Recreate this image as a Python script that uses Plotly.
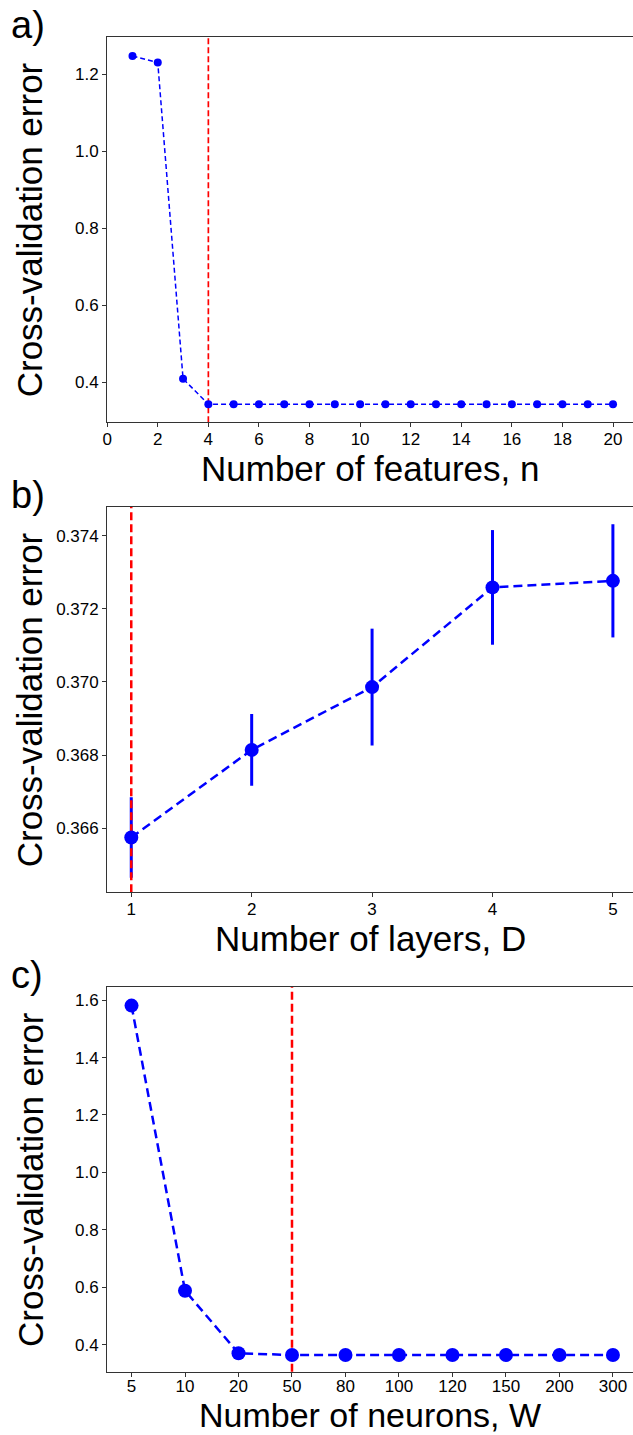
import plotly.graph_objects as go

# ---------------- data ----------------
n_features = list(range(1, 21))
cv_features = [1.248, 1.231, 0.409, 0.343, 0.343, 0.343, 0.343, 0.343, 0.343, 0.343,
               0.343, 0.343, 0.343, 0.343, 0.343, 0.343, 0.343, 0.343, 0.343, 0.343]
best_n = 4

n_layers = [1, 2, 3, 4, 5]
cv_layers = [0.36574, 0.36814, 0.36986, 0.37259, 0.37277]
cv_layers_err = [0.0011, 0.00098, 0.0016, 0.00157, 0.00155]
best_D = 1

n_neurons = ["5", "10", "20", "50", "80", "100", "120", "150", "200", "300"]
cv_neurons = [1.581, 0.588, 0.370, 0.364, 0.364, 0.364, 0.364, 0.364, 0.364, 0.364]
best_W = "50"

a_xticks = list(range(0, 21, 2))
a_yticks = [0.4, 0.6, 0.8, 1.0, 1.2]
b_yticks = [0.366, 0.368, 0.370, 0.372, 0.374]
c_yticks = [0.4, 0.6, 0.8, 1.0, 1.2, 1.4, 1.6]

BLUE = "#0000ff"
RED = "#ff0000"
W, H = 633, 1435
LABEL_FONT = dict(family="Liberation Sans, Arial, sans-serif", size=35, color="black")
TICK_FONT = dict(family="Liberation Sans, Arial, sans-serif", size=17, color="black")

# pixel geometry of the three panels (top, bottom) and left edge
left_px = 103.0
panels_px = [(36.7, 422.3), (506.7, 892.3), (986.8, 1371.7)]


def ydom(top, bottom):
    return [1 - bottom / H, 1 - top / H]


fig = go.Figure()

# ---- panel a ----
fig.add_trace(go.Scatter(
    x=n_features, y=cv_features, mode="lines+markers",
    line=dict(color=BLUE, width=1.5, dash="5px,3px"),
    marker=dict(color=BLUE, size=8),
    xaxis="x", yaxis="y", showlegend=False))

# ---- panel b ----
fig.add_trace(go.Scatter(
    x=n_layers, y=cv_layers, mode="markers",
    marker=dict(color=BLUE, size=1, opacity=0),
    error_y=dict(type="data", array=cv_layers_err, visible=True,
                 color=BLUE, thickness=3, width=0),
    xaxis="x2", yaxis="y2", showlegend=False, hoverinfo="skip"))

b_range = [0.36424, 0.37480]
fig.add_trace(go.Scatter(
    x=[best_D, best_D], y=b_range, mode="lines",
    line=dict(color=RED, width=2.5, dash="8px,4px"),
    xaxis="x2", yaxis="y2", showlegend=False, hoverinfo="skip"))

fig.add_trace(go.Scatter(
    x=n_layers, y=cv_layers, mode="lines+markers",
    line=dict(color=BLUE, width=2.5, dash="9px,5px"),
    marker=dict(color=BLUE, size=14),
    xaxis="x2", yaxis="y2", showlegend=False))

# ---- panel c ----
fig.add_trace(go.Scatter(
    x=n_neurons, y=cv_neurons, mode="lines+markers",
    line=dict(color=BLUE, width=2.5, dash="9px,5px"),
    marker=dict(color=BLUE, size=14),
    xaxis="x3", yaxis="y3", showlegend=False))

# red dashed vertical lines (a and c)
fig.add_shape(type="line", xref="x", yref="y domain", x0=best_n, x1=best_n, y0=0, y1=1,
              line=dict(color=RED, width=1.7, dash="6px,3px"), layer="below")
wi = n_neurons.index(best_W)
fig.add_shape(type="line", xref="x3", yref="y3 domain", x0=wi, x1=wi, y0=0, y1=1,
              line=dict(color=RED, width=2.5, dash="8px,4px"), layer="below")

common_x = dict(showgrid=False, zeroline=False, showline=True, linecolor="#333333",
                linewidth=1.2, mirror=True, ticks="outside", ticklen=4, tickwidth=1,
                tickcolor="#333333", tickfont=TICK_FONT)
common_y = dict(showgrid=False, zeroline=False, showline=True, linecolor="#333333",
                linewidth=1.2, mirror=False, ticks="outside", ticklen=4, tickwidth=1,
                tickcolor="#333333", tickfont=TICK_FONT)

xdom = [left_px / W, 1.0]

fig.update_layout(
    width=W, height=H,
    margin=dict(l=0, r=0, t=0, b=0),
    paper_bgcolor="white", plot_bgcolor="white",
    xaxis=dict(domain=xdom, range=[0, 20.79], tickvals=a_xticks, anchor="y",
               ticklabelstandoff=-3, **common_x),
    yaxis=dict(domain=ydom(*panels_px[0]), range=[0.296, 1.298], tickvals=a_yticks,
               tickformat=".1f", anchor="x", **common_y),
    xaxis2=dict(domain=xdom, range=[0.8, 5.167], tickvals=n_layers, anchor="y2",
                ticklabelstandoff=-3, **common_x),
    yaxis2=dict(domain=ydom(*panels_px[1]), range=b_range, tickvals=b_yticks,
                tickformat=".3f", anchor="x2", **common_y),
    xaxis3=dict(domain=xdom, type="category", range=[-0.455, 9.375], anchor="y3",
                ticklabelstandoff=-5, **common_x),
    yaxis3=dict(domain=ydom(*panels_px[2]), range=[0.3058, 1.6465], tickvals=c_yticks,
                tickformat=".1f", anchor="x3", **common_y),
)

xlabels = ["Number of features, n", "Number of layers, D", "Number of neurons, W"]
letters = ["a)", "b)", "c)"]
for i, ((top, bottom), xl, let) in enumerate(zip(panels_px, xlabels, letters)):
    # x label
    if i < 2:
        fig.add_annotation(text=xl, xref="paper", yref="paper",
                           x=(left_px + W) / 2 / W, y=1 - (bottom + 26) / H,
                           xanchor="center", yanchor="top", showarrow=False,
                           borderpad=0, font=LABEL_FONT)
    else:
        fig.add_annotation(text=xl, xref="paper", yref="paper",
                           x=(left_px + W) / 2 / W, y=0,
                           xanchor="center", yanchor="bottom", showarrow=False,
                           borderpad=0, font=dict(LABEL_FONT, size=34))
    # y label
    fig.add_annotation(text="Cross-validation error", xref="paper", yref="paper",
                       x=25 / W, y=1 - (top + bottom) / 2 / H, textangle=-90,
                       xanchor="center", yanchor="middle", showarrow=False,
                       borderpad=0, font=LABEL_FONT)
    # panel letter
    fig.add_annotation(text=let, xref="paper", yref="paper",
                       x=5 / W, y=1 - (top - 12) / H, xanchor="left", yanchor="middle",
                       showarrow=False, borderpad=0,
                       font=dict(family="Liberation Sans, Arial, sans-serif", size=38,
                                 color="black"))

fig.write_html("out.html",
               config={"displayModeBar": False},
               post_script="document.body.style.margin='0';"
                           "document.body.style.overflow='hidden';")
